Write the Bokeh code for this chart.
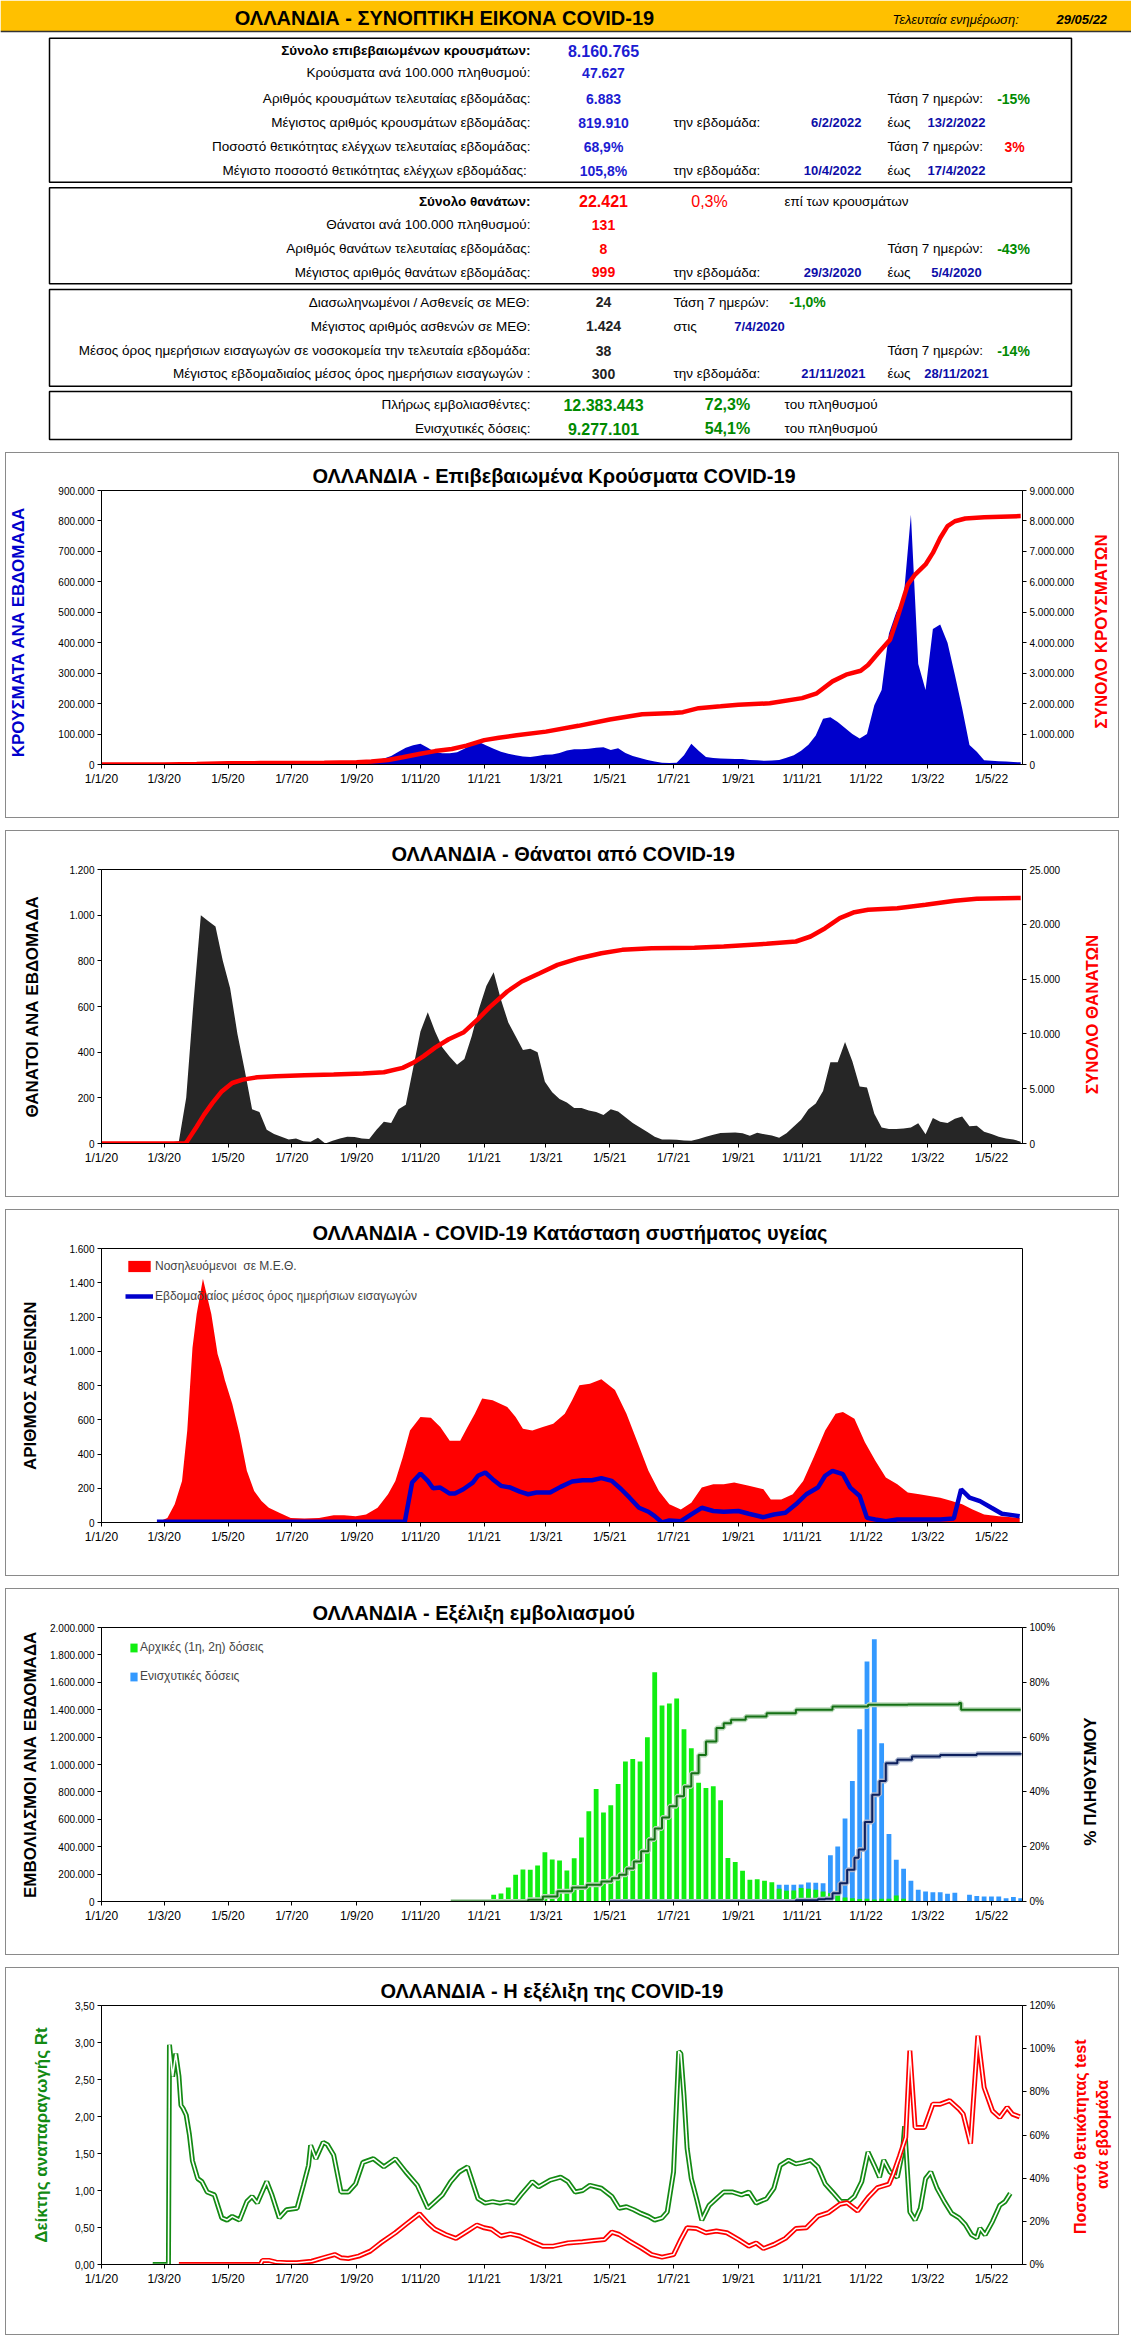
import math
from datetime import date
from bokeh.plotting import figure
from bokeh.models import (Range1d, LinearAxis, FixedTicker, Legend, LegendItem, Spacer)
from bokeh.layouts import column, row
from bokeh.embed import file_html
from bokeh.resources import INLINE
from bokeh.core.properties import value

SANS = "Liberation Sans"

# ---------------------------------------------------------------- data
x_tick_dates = ["2020-01-01", "2020-03-01", "2020-05-01", "2020-07-01", "2020-09-01",
                "2020-11-01", "2021-01-01", "2021-03-01", "2021-05-01", "2021-07-01",
                "2021-09-01", "2021-11-01", "2022-01-01", "2022-03-01", "2022-05-01"]
x_tick_labels = ["1/1/20", "1/3/20", "1/5/20", "1/7/20", "1/9/20", "1/11/20", "1/1/21",
                 "1/3/21", "1/5/21", "1/7/21", "1/9/21", "1/11/21", "1/1/22", "1/3/22", "1/5/22"]
X_START, X_END = "2020-01-01", "2022-05-30"

WEEK_START = "2020-01-05"
weekly_cases = [0, 0, 0, 0, 0, 0, 0, 0,
                100, 800, 3000, 5500, 7000, 7500, 7000, 6500, 5000, 4000,
                2500, 1500, 1300, 1200, 1000, 700, 500, 500, 500, 600,
                1000, 1500, 2000, 2500, 3000, 3500, 4000, 6000, 9000, 14000,
                20000, 28000,
                42000, 55000, 63000, 68000, 55000, 40000, 37000, 37000, 40000, 52000,
                66000, 74000, 62000, 52000, 42000, 35000, 30000, 26000, 25000, 28000,
                32000, 33000, 38000, 46000, 50000, 50000, 52000, 55000, 57000, 48000,
                53000, 38000, 28000, 21000, 15000, 10000, 6000, 5000, 5500, 30000,
                68000, 45000, 25000, 21000, 20000, 19000, 18000, 18000, 15000, 14000,
                12000, 13000, 15000, 22000, 30000, 45000, 65000, 95000, 150000, 155000,
                140000, 120000, 100000, 85000, 100000, 195000, 245000, 430000, 500000, 545000,
                820000, 330000, 245000, 445000, 460000, 400000, 295000, 185000, 64000, 42000,
                14000, 12000, 11000, 10000, 8000, 7000]

weekly_deaths = [0, 0, 0, 0, 0, 0, 0, 0, 0,
                 5, 10, 200, 620, 1000, 975, 950, 800, 680, 480,
                 320, 150, 138, 60, 42, 30, 18, 22, 10, 8,
                 25, 0, 12, 22, 30, 28, 22, 20, 60, 95,
                 90, 150, 170, 330, 490, 575, 490, 420, 380, 345,
                 370, 470, 590, 690, 750, 630, 530, 470, 410, 415,
                 400, 270, 225, 195, 180, 155, 155, 145, 138, 125,
                 150, 140, 115, 90, 70, 50, 30, 18, 18, 16,
                 13, 12, 20, 30, 38, 46, 47, 48, 45, 34,
                 47, 40, 35, 25, 45, 75, 104, 150, 175, 230,
                 356, 356, 445, 360, 250, 245, 130, 70, 64, 64,
                 66, 70, 89, 40, 112, 95, 90, 108, 118, 76,
                 78, 52, 42, 30, 22, 18, 8]

cum_cases = [("2020-01-01", 0), ("2020-03-01", 0), ("2020-04-01", 13000), ("2020-05-01", 39000),
             ("2020-06-01", 46000), ("2020-07-01", 50000), ("2020-08-01", 54000),
             ("2020-09-01", 72000), ("2020-09-15", 100000), ("2020-10-01", 150000),
             ("2020-10-15", 240000), ("2020-11-01", 355000), ("2020-11-15", 440000),
             ("2020-12-01", 510000), ("2020-12-15", 620000), ("2021-01-01", 800000),
             ("2021-01-15", 880000), ("2021-02-01", 960000), ("2021-03-01", 1080000),
             ("2021-04-01", 1270000), ("2021-05-01", 1480000), ("2021-06-01", 1650000),
             ("2021-07-01", 1690000), ("2021-07-10", 1720000), ("2021-07-25", 1850000),
             ("2021-08-15", 1910000), ("2021-09-01", 1960000), ("2021-10-01", 2010000),
             ("2021-11-01", 2180000), ("2021-11-15", 2340000), ("2021-11-30", 2730000),
             ("2021-12-13", 2950000), ("2021-12-27", 3080000), ("2022-01-03", 3270000),
             ("2022-01-14", 3710000), ("2022-01-24", 4100000), ("2022-01-31", 4810000),
             ("2022-02-10", 5910000), ("2022-02-17", 6240000), ("2022-02-27", 6570000),
             ("2022-03-06", 6950000), ("2022-03-13", 7440000), ("2022-03-20", 7830000),
             ("2022-03-27", 7990000), ("2022-04-06", 8080000), ("2022-04-24", 8120000),
             ("2022-05-29", 8160000)]

cum_deaths = [("2020-01-01", 0), ("2020-03-21", 0), ("2020-03-23", 215), ("2020-04-01", 1534),
              ("2020-04-08", 2607), ("2020-04-16", 3681), ("2020-04-25", 4755),
              ("2020-05-05", 5521), ("2020-05-15", 5828), ("2020-05-29", 6043),
              ("2020-06-16", 6135), ("2020-07-13", 6227), ("2020-08-10", 6288),
              ("2020-09-07", 6380), ("2020-09-27", 6503), ("2020-10-15", 6902),
              ("2020-10-25", 7362), ("2020-11-04", 7975), ("2020-11-15", 8742),
              ("2020-11-28", 9509), ("2020-12-12", 10123), ("2020-12-26", 11350),
              ("2021-01-06", 12423), ("2021-01-23", 13869), ("2021-02-06", 14781),
              ("2021-02-23", 15540), ("2021-03-12", 16300), ("2021-04-02", 16907),
              ("2021-04-23", 17363), ("2021-05-13", 17667), ("2021-06-10", 17820),
              ("2021-07-21", 17850), ("2021-08-18", 17974), ("2021-09-28", 18221),
              ("2021-10-26", 18431), ("2021-11-09", 18887), ("2021-11-23", 19645),
              ("2021-12-07", 20557), ("2021-12-21", 21105), ("2022-01-03", 21322),
              ("2022-01-31", 21470), ("2022-02-27", 21775), ("2022-03-27", 22140),
              ("2022-04-17", 22326), ("2022-05-29", 22400)]

icu_patients = [("2020-02-23", 0), ("2020-03-04", 27), ("2020-03-11", 106), ("2020-03-18", 243),
                ("2020-03-23", 537), ("2020-03-28", 1021), ("2020-04-01", 1218), ("2020-04-07", 1424),
                ("2020-04-15", 1218), ("2020-04-21", 984), ("2020-04-25", 904), ("2020-04-28", 831),
                ("2020-05-05", 694), ("2020-05-12", 518), ("2020-05-19", 302), ("2020-05-26", 184),
                ("2020-06-02", 125), ("2020-06-09", 86), ("2020-06-19", 57), ("2020-06-30", 27),
                ("2020-07-13", 24), ("2020-07-27", 27), ("2020-08-10", 43), ("2020-08-20", 43),
                ("2020-08-31", 37), ("2020-09-10", 47), ("2020-09-21", 86), ("2020-10-01", 165),
                ("2020-10-08", 243), ("2020-10-15", 380), ("2020-10-22", 537), ("2020-11-01", 616),
                ("2020-11-11", 612), ("2020-11-20", 557), ("2020-11-29", 478), ("2020-12-09", 478),
                ("2020-12-16", 557), ("2020-12-23", 635), ("2020-12-30", 724), ("2021-01-09", 714),
                ("2021-01-23", 675), ("2021-01-31", 616), ("2021-02-07", 547), ("2021-02-16", 537),
                ("2021-02-26", 557), ("2021-03-08", 576), ("2021-03-19", 635), ("2021-03-26", 714),
                ("2021-04-02", 802), ("2021-04-12", 810), ("2021-04-23", 836), ("2021-05-06", 773),
                ("2021-05-17", 635), ("2021-05-27", 478), ("2021-06-07", 302), ("2021-06-17", 184),
                ("2021-06-27", 106), ("2021-07-08", 76), ("2021-07-18", 116), ("2021-07-28", 204),
                ("2021-08-08", 224), ("2021-08-18", 224), ("2021-08-28", 233), ("2021-09-11", 214),
                ("2021-09-25", 194), ("2021-10-02", 135), ("2021-10-12", 135), ("2021-10-23", 165),
                ("2021-11-02", 243), ("2021-11-12", 380), ("2021-11-23", 537), ("2021-12-03", 635),
                ("2021-12-10", 645), ("2021-12-21", 606), ("2021-12-31", 469), ("2022-01-10", 361),
                ("2022-01-20", 263), ("2022-01-31", 224), ("2022-02-10", 175), ("2022-02-21", 165),
                ("2022-03-03", 155), ("2022-03-13", 145), ("2022-03-24", 125), ("2022-04-03", 106),
                ("2022-04-13", 76), ("2022-04-24", 47), ("2022-05-08", 37), ("2022-05-28", 27)]

admissions = [("2020-02-23", 4), ("2020-10-17", 4), ("2020-10-24", 233), ("2020-11-01", 286),
              ("2020-11-08", 243), ("2020-11-13", 200), ("2020-11-20", 204), ("2020-11-29", 169),
              ("2020-12-04", 169), ("2020-12-12", 194), ("2020-12-21", 233), ("2020-12-26", 273),
              ("2021-01-02", 292), ("2021-01-09", 253), ("2021-01-17", 214), ("2021-01-26", 204),
              ("2021-02-04", 180), ("2021-02-12", 165), ("2021-02-20", 175), ("2021-03-05", 175),
              ("2021-03-15", 208), ("2021-03-26", 239), ("2021-04-05", 247), ("2021-04-14", 247),
              ("2021-04-23", 259), ("2021-05-03", 243), ("2021-05-12", 194), ("2021-05-20", 145),
              ("2021-05-29", 86), ("2021-06-07", 63), ("2021-06-13", 37), ("2021-06-20", 0),
              ("2021-06-27", 12), ("2021-07-08", 8), ("2021-07-18", 47), ("2021-07-28", 86),
              ("2021-08-08", 67), ("2021-08-18", 63), ("2021-09-01", 67), ("2021-09-11", 51),
              ("2021-09-25", 31), ("2021-10-05", 47), ("2021-10-16", 57), ("2021-10-26", 106),
              ("2021-11-05", 165), ("2021-11-16", 204), ("2021-11-23", 273), ("2021-11-30", 302),
              ("2021-12-10", 282), ("2021-12-17", 204), ("2021-12-26", 155), ("2022-01-02", 27),
              ("2022-01-10", 18), ("2022-01-20", 8), ("2022-01-31", 18), ("2022-02-14", 18),
              ("2022-03-13", 18), ("2022-03-26", 24), ("2022-04-02", 194), ("2022-04-10", 145),
              ("2022-04-20", 125), ("2022-05-01", 86), ("2022-05-11", 51), ("2022-05-21", 43),
              ("2022-05-28", 37)]

PRIMARY_START = "2021-01-10"
primary_doses = [49000, 58000, 102000, 195000, 234000, 232000, 263000, 359000, 307000, 300000,
                 227000, 315000, 468000, 659000, 822000, 650000, 702000, 858000, 1022000, 1041000,
                 1022000, 1199000, 1674000, 1431000, 1445000, 1482000, 1258000, 1119000, 866000, 829000,
                 841000, 739000, 317000, 288000, 224000, 159000, 163000, 151000, 141000, 93000,
                 78000, 80000, 98000, 93000, 85000, 73000, 61000, 49000, 30000, 24000,
                 18000, 20000, 15000, 20000, 20000, 44000, 20000, 5000, 3000, 2000,
                 2000, 2000, 2000, 2000, 2000, 2000, 1000, 1000, 1000, 1000,
                 1000, 1000, 1000]
BOOSTER_START = "2021-10-10"
booster_doses = [122000, 122000, 122000, 125000, 138000, 137000, 133000,
                 337000, 402000, 605000, 880000,
                 1258000, 1752000, 1915000, 1156000,
                 493000, 305000, 239000, 151000, 85000, 73000, 68000, 68000, 56000, 63000,
                 0, 49000, 41000, 37000, 37000, 37000, 24000, 32000, 24000]

fully_pct = [("2020-11-30", 0), ("2021-01-23", 0), ("2021-02-12", 0.6), ("2021-02-26", 1.8),
             ("2021-03-12", 3.7), ("2021-03-26", 5.1), ("2021-04-09", 6.1), ("2021-04-23", 7.3),
             ("2021-05-03", 8.5), ("2021-05-10", 9.8), ("2021-05-17", 12), ("2021-05-24", 14.6),
             ("2021-05-31", 18.3), ("2021-06-07", 22.6), ("2021-06-13", 26.6), ("2021-06-20", 30.7),
             ("2021-06-27", 34.8), ("2021-07-04", 38.4), ("2021-07-11", 42), ("2021-07-18", 46.8),
             ("2021-07-25", 53.5), ("2021-08-01", 58.4), ("2021-08-11", 63.3), ("2021-08-18", 65.1),
             ("2021-08-25", 66.3), ("2021-09-08", 67.5), ("2021-09-28", 68.7), ("2021-10-26", 70),
             ("2021-11-30", 71.2), ("2022-01-03", 71.8), ("2022-02-10", 71.9), ("2022-03-31", 72.4),
             ("2022-04-02", 70), ("2022-05-29", 70)]
booster_pct = [("2021-05-01", 0), ("2021-10-26", 0.5), ("2021-11-16", 0.8), ("2021-11-23", 1),
               ("2021-11-30", 3), ("2021-12-07", 6.7), ("2021-12-14", 11.6), ("2021-12-21", 16),
               ("2021-12-25", 19), ("2021-12-31", 29), ("2022-01-07", 39), ("2022-01-14", 44),
               ("2022-01-20", 50.5), ("2022-01-31", 51.7), ("2022-02-14", 52.9), ("2022-03-13", 53.5),
               ("2022-04-17", 53.9), ("2022-05-29", 54.1)]

rt_values = [("2020-02-19", 0), ("2020-03-05", 0), ("2020-03-06", 2.97), ("2020-03-09", 2.54),
             ("2020-03-12", 2.85), ("2020-03-15", 2.55), ("2020-03-17", 2.15), ("2020-03-19", 2.11),
             ("2020-03-22", 2.02), ("2020-03-25", 1.76), ("2020-03-28", 1.40), ("2020-04-02", 1.16),
             ("2020-04-06", 1.12), ("2020-04-11", 0.98), ("2020-04-18", 0.94), ("2020-04-25", 0.63),
             ("2020-04-30", 0.60), ("2020-05-05", 0.65), ("2020-05-12", 0.60), ("2020-05-19", 0.85),
             ("2020-05-24", 0.92), ("2020-05-29", 0.83), ("2020-06-07", 1.12), ("2020-06-12", 0.94),
             ("2020-06-19", 0.63), ("2020-06-26", 0.74), ("2020-07-06", 0.76), ("2020-07-12", 1.07),
             ("2020-07-17", 1.34), ("2020-07-19", 1.61), ("2020-07-24", 1.43), ("2020-07-31", 1.65),
             ("2020-08-04", 1.62), ("2020-08-10", 1.48), ("2020-08-17", 0.98), ("2020-08-24", 0.98),
             ("2020-08-31", 1.09), ("2020-09-07", 1.38), ("2020-09-17", 1.43), ("2020-09-27", 1.32),
             ("2020-10-08", 1.43), ("2020-10-18", 1.25), ("2020-10-29", 1.07), ("2020-11-08", 0.76),
             ("2020-11-15", 0.85), ("2020-11-22", 0.94), ("2020-11-30", 1.12), ("2020-12-08", 1.25),
             ("2020-12-16", 1.32), ("2020-12-26", 0.89), ("2021-01-02", 0.83), ("2021-01-09", 0.85),
             ("2021-01-16", 0.83), ("2021-01-23", 0.85), ("2021-01-30", 0.83), ("2021-02-05", 0.94),
             ("2021-02-16", 1.12), ("2021-02-22", 1.05), ("2021-03-05", 1.14), ("2021-03-15", 1.18),
             ("2021-03-22", 1.12), ("2021-03-29", 0.98), ("2021-04-05", 1.00), ("2021-04-12", 1.07),
             ("2021-04-23", 1.03), ("2021-05-03", 0.92), ("2021-05-10", 0.76), ("2021-05-17", 0.78),
             ("2021-05-24", 0.74), ("2021-05-31", 0.69), ("2021-06-07", 0.65), ("2021-06-13", 0.60),
             ("2021-06-20", 0.63), ("2021-06-25", 0.71), ("2021-07-01", 1.25), ("2021-07-06", 2.88),
             ("2021-07-08", 2.85), ("2021-07-11", 2.28), ("2021-07-14", 1.57), ("2021-07-18", 1.16),
             ("2021-07-23", 0.89), ("2021-07-28", 0.60), ("2021-08-04", 0.80), ("2021-08-11", 0.89),
             ("2021-08-18", 0.98), ("2021-08-26", 0.98), ("2021-09-04", 0.94), ("2021-09-11", 0.98),
             ("2021-09-18", 0.83), ("2021-09-28", 0.89), ("2021-10-05", 1.03), ("2021-10-11", 1.34),
             ("2021-10-19", 1.41), ("2021-10-26", 1.36), ("2021-11-02", 1.38), ("2021-11-09", 1.41),
             ("2021-11-16", 1.32), ("2021-11-23", 1.09), ("2021-11-30", 0.98), ("2021-12-08", 0.85),
             ("2021-12-15", 0.85), ("2021-12-21", 0.92), ("2021-12-28", 1.12), ("2022-01-03", 1.52),
             ("2022-01-09", 1.34), ("2022-01-14", 1.18), ("2022-01-18", 1.41), ("2022-01-24", 1.25),
             ("2022-01-31", 1.18), ("2022-02-05", 1.52), ("2022-02-07", 1.87), ("2022-02-12", 0.71),
             ("2022-02-17", 0.60), ("2022-02-22", 0.76), ("2022-02-27", 1.16), ("2022-03-04", 1.25),
             ("2022-03-10", 1.03), ("2022-03-17", 0.85), ("2022-03-24", 0.69), ("2022-03-31", 0.63),
             ("2022-04-06", 0.54), ("2022-04-12", 0.40), ("2022-04-17", 0.36), ("2022-04-20", 0.49),
             ("2022-04-25", 0.40), ("2022-05-02", 0.58), ("2022-05-09", 0.80), ("2022-05-14", 0.85),
             ("2022-05-19", 0.96)]

positivity = [("2020-03-15", 0), ("2020-06-01", 0), ("2020-06-03", 1.9), ("2020-06-09", 1.9),
              ("2020-06-16", 1.1), ("2020-06-26", 0.8), ("2020-07-06", 0.8), ("2020-07-20", 1.5),
              ("2020-07-31", 3.1), ("2020-08-11", 4.6), ("2020-08-17", 3.1), ("2020-08-24", 2.8),
              ("2020-09-03", 3.9), ("2020-09-14", 6.2), ("2020-09-24", 10.0), ("2020-10-08", 14.7),
              ("2020-10-18", 18.6), ("2020-10-31", 23.5), ("2020-11-08", 19.3), ("2020-11-15", 16.3),
              ("2020-11-25", 13.9), ("2020-12-05", 12.1), ("2020-12-16", 15.5), ("2020-12-25", 18.3),
              ("2021-01-01", 17.0), ("2021-01-08", 16.3), ("2021-01-17", 13.2), ("2021-01-26", 14.2),
              ("2021-02-04", 13.2), ("2021-02-16", 10.5), ("2021-02-26", 8.5), ("2021-03-08", 8.5),
              ("2021-03-22", 10.0), ("2021-04-05", 10.5), ("2021-04-16", 11.1), ("2021-04-26", 11.6),
              ("2021-05-03", 15.0), ("2021-05-10", 13.9), ("2021-05-20", 10.8), ("2021-05-31", 7.7),
              ("2021-06-10", 4.6), ("2021-06-20", 3.4), ("2021-07-01", 4.6), ("2021-07-08", 11.6),
              ("2021-07-14", 17.0), ("2021-07-23", 16.7), ("2021-08-01", 14.7), ("2021-08-11", 15.5),
              ("2021-08-21", 14.7), ("2021-09-01", 11.6), ("2021-09-11", 8.5), ("2021-09-18", 10.0),
              ("2021-09-25", 7.4), ("2021-10-05", 9.3), ("2021-10-16", 12.1), ("2021-10-26", 16.7),
              ("2021-11-05", 17.0), ("2021-11-16", 22.4), ("2021-11-26", 24.0), ("2021-12-07", 27.9),
              ("2021-12-14", 28.6), ("2021-12-24", 24.8), ("2022-01-03", 31.0), ("2022-01-12", 35.6),
              ("2022-01-23", 37.2), ("2022-01-27", 41.8), ("2022-02-02", 50.0), ("2022-02-08", 58.8),
              ("2022-02-12", 99.1), ("2022-02-17", 63.5), ("2022-02-26", 63.5), ("2022-03-06", 74.3),
              ("2022-03-13", 74.3), ("2022-03-22", 75.9), ("2022-03-31", 72.0), ("2022-04-04", 69.7),
              ("2022-04-11", 56.0), ("2022-04-18", 106.0), ("2022-04-24", 82.0), ("2022-05-02", 71.2),
              ("2022-05-09", 68.1), ("2022-05-16", 72.8), ("2022-05-21", 69.7), ("2022-05-28", 68.4)]

cases_ticks = [0, 100000, 200000, 300000, 400000, 500000, 600000, 700000, 800000, 900000]
cum_cases_ticks = [0, 1000000, 2000000, 3000000, 4000000, 5000000, 6000000, 7000000, 8000000, 9000000]
deaths_ticks = [0, 200, 400, 600, 800, 1000, 1200]
cum_deaths_ticks = [0, 5000, 10000, 15000, 20000, 25000]
icu_ticks = [0, 200, 400, 600, 800, 1000, 1200, 1400, 1600]
vacc_ticks = [0, 200000, 400000, 600000, 800000, 1000000, 1200000, 1400000, 1600000, 1800000, 2000000]
vacc_pct_ticks = [0, 20, 40, 60, 80, 100]
rt_ticks = [0, 0.5, 1.0, 1.5, 2.0, 2.5, 3.0, 3.5]
pos_ticks = [0, 20, 40, 60, 80, 100, 120]

# ---------------------------------------------------------------- helpers
ORIGIN = date(2020, 1, 1)
BORDER = "1px solid #8a8a8a"


def day(s):
    y, m, d = (int(t) for t in s.split("-"))
    return (date(y, m, d) - ORIGIN).days


def weekly_x(start, n):
    s = day(start)
    return [s + 7 * k for k in range(n)]


def unzip(pairs):
    return [day(a) for a, _ in pairs], [b for _, b in pairs]


def dots(n):
    return f"{int(n):,}".replace(",", ".")


def no_frame_align(p):
    if "frame_align" in p.properties():
        p.frame_align = False


def style_axis(ax, size):
    ax.major_label_text_font = SANS
    ax.major_label_text_font_size = size
    ax.major_label_text_color = "#000000"
    ax.major_tick_in = 0
    ax.major_tick_out = 4
    ax.minor_tick_in = 0
    ax.minor_tick_out = 0
    ax.axis_line_color = "#000000"
    ax.major_tick_line_color = "#000000"
    ax.major_label_standoff = 3


def axis_title(ax, text, color, standoff):
    ax.axis_label = text
    ax.axis_label_text_font = SANS
    ax.axis_label_text_font_size = "17px"
    ax.axis_label_text_font_style = "bold"
    ax.axis_label_text_color = color
    ax.axis_label_standoff = standoff


def make_chart(width, right_border, height, top, bottom, ymax, yticks, ylabels,
               title, title_offset, title_standoff, open_right):
    p = figure(width=width, height=height,
               x_range=Range1d(day(X_START), day(X_END) + 0.7),
               y_range=Range1d(0, ymax),
               min_border_left=95, min_border_right=right_border,
               min_border_top=top, min_border_bottom=bottom,
               toolbar_location=None, tools="", output_backend="svg")
    no_frame_align(p)
    p.styles = {"border": BORDER, "border-right": "none"} if open_right else {"border": BORDER}
    p.xgrid.visible = False
    p.ygrid.visible = False
    p.outline_line_color = "#000000"
    p.outline_line_width = 1
    p.title.text = title
    p.title.align = "left"
    p.title.offset = title_offset
    p.title.standoff = title_standoff
    p.title.text_font = SANS
    p.title.text_font_size = "20px"
    p.title.text_font_style = "bold"
    p.title.text_color = "#000000"
    xa = p.xaxis[0]
    xa.ticker = FixedTicker(ticks=[day(s) for s in x_tick_dates])
    xa.major_label_overrides = {day(s): l for s, l in zip(x_tick_dates, x_tick_labels)}
    style_axis(xa, "12px")
    ya = p.yaxis[0]
    ya.ticker = FixedTicker(ticks=yticks)
    ya.major_label_overrides = dict(zip(yticks, ylabels))
    style_axis(ya, "10px")
    return p


def right_axis(p, name, ymax, ticks, labels):
    p.extra_y_ranges = {name: Range1d(0, ymax)}
    ax = LinearAxis(y_range_name=name, ticker=FixedTicker(ticks=ticks),
                    major_label_overrides=dict(zip(ticks, labels)))
    style_axis(ax, "10px")
    p.add_layout(ax, "right")
    return ax


def label_strip(width, height, items):
    """Narrow strip to the right of a chart holding its bottom-to-top right-hand title."""
    lf = figure(width=width, height=height, x_range=Range1d(0, width), y_range=Range1d(0, height),
                min_border=0, min_border_left=0, min_border_right=0, min_border_top=0,
                min_border_bottom=0, toolbar_location=None, tools="", output_backend="svg",
                x_axis_location=None, y_axis_location=None)
    no_frame_align(lf)
    lf.grid.visible = False
    lf.outline_line_color = None
    lf.styles = {"border": BORDER, "border-left": "none"}
    for x, y, s, col, size in items:
        lf.text(x=[x], y=[y], text=[s], angle=math.pi / 2, text_align="center",
                text_baseline="middle", text_font=value(SANS), text_font_size=value(size),
                text_font_style="bold", text_color=col)
    return lf


# ---------------------------------------------------------------- summary table
tbl = figure(width=1131, height=446, x_range=Range1d(0, 1131), y_range=Range1d(446, 0),
             min_border=0, min_border_left=0, min_border_right=0, min_border_top=0,
             min_border_bottom=0, toolbar_location=None, tools="", output_backend="svg",
             x_axis_location=None, y_axis_location=None)
no_frame_align(tbl)
tbl.grid.visible = False
tbl.outline_line_color = None

tbl.quad(left=[0], right=[1131], top=[0], bottom=[31], fill_color="#FFC000", line_color=None)
tbl.segment(x0=[0], x1=[1131], y0=[31], y1=[31], line_color="#333333", line_width=1.5)


def put(x, y, s, align="left", color="#000000", size="13.5px", style="normal"):
    tbl.text(x=[x], y=[y], text=[s], text_align=align, text_baseline="middle",
             text_font=value(SANS), text_font_size=value(size), text_font_style=style,
             text_color=color)


put(444, 17.5, "ΟΛΛΑΝΔΙΑ - ΣΥΝΟΠΤΙΚΗ ΕΙΚΟΝΑ COVID-19", "center", size="20px", style="bold")
put(892, 19, "Τελευταία ενημέρωση:", size="13px", style="italic")
put(1056, 19, "29/05/22", size="13px", style="bold italic")

box_top = [37.7, 187.3, 289, 391]
box_bottom = [181.7, 283.3, 385.7, 439]
tbl.quad(left=[49] * 4, right=[1071] * 4, top=box_top, bottom=box_bottom,
         fill_color=None, line_color="#000000", line_width=1.5)

BV = "#1c1cd2"   # blue values
BD = "#0d0da8"   # blue dates
GR = "#008a00"
RD = "#ff0000"
BK = "#222222"
LX, VX = 530, 603

table_rows = [
    (50, "Σύνολο επιβεβαιωμένων κρουσμάτων:", "bold", "8.160.765", BV, "16px"),
    (72, "Κρούσματα ανά 100.000 πληθυσμού:", "normal", "47.627", BV, "14px"),
    (98, "Αριθμός κρουσμάτων τελευταίας εβδομάδας:", "normal", "6.883", BV, "14px"),
    (122, "Μέγιστος αριθμός κρουσμάτων εβδομάδας:", "normal", "819.910", BV, "14px"),
    (146, "Ποσοστό θετικότητας ελέγχων τελευταίας εβδομάδας:", "normal", "68,9%", BV, "14px"),
    (170, "Μέγιστο ποσοστό θετικότητας ελέγχων  εβδομάδας:", "normal", "105,8%", BV, "14px"),
    (200.7, "Σύνολο θανάτων:", "bold", "22.421", RD, "16px"),
    (224, "Θάνατοι ανά 100.000 πληθυσμού:", "normal", "131", RD, "14px"),
    (248.3, "Αριθμός θανάτων τελευταίας εβδομάδας:", "normal", "8", RD, "14px"),
    (271.7, "Μέγιστος αριθμός θανάτων εβδομάδας:", "normal", "999", RD, "14px"),
    (301.7, "Διασωληνωμένοι / Ασθενείς σε ΜΕΘ:", "normal", "24", BK, "14px"),
    (325.7, "Μέγιστος αριθμός ασθενών σε ΜΕΘ:", "normal", "1.424", BK, "14px"),
    (350, "Μέσος όρος ημερήσιων εισαγωγών σε νοσοκομεία την τελευταία εβδομάδα:", "normal", "38", BK, "14px"),
    (373.3, "Μέγιστος εβδομαδιαίος μέσος όρος ημερήσιων εισαγωγών :", "normal", "300", BK, "14px"),
    (404, "Πλήρως εμβολιασθέντες:", "normal", "12.383.443", GR, "16px"),
    (428.3, "Ενισχυτικές δόσεις:", "normal", "9.277.101", GR, "16px"),
]
for y, lab, lstyle, val, col, vsize in table_rows:
    put(LX, y, lab, "right", style=lstyle)
    put(VX, y, val, "center", color=col, size=vsize, style="bold")

table_extras = [
    (887, 98, "Τάση 7 ημερών:", "left", "#000000", "13.5px", "normal"),
    (1013, 98, "-15%", "center", GR, "14px", "bold"),
    (673, 122, "την εβδομάδα:", "left", "#000000", "13.5px", "normal"),
    (861, 122, "6/2/2022", "right", BD, "13px", "bold"),
    (887, 122, "έως", "left", "#000000", "13.5px", "normal"),
    (956, 122, "13/2/2022", "center", BD, "13px", "bold"),
    (887, 146, "Τάση 7 ημερών:", "left", "#000000", "13.5px", "normal"),
    (1014, 146, "3%", "center", RD, "14px", "bold"),
    (673, 170, "την εβδομάδα:", "left", "#000000", "13.5px", "normal"),
    (861, 170, "10/4/2022", "right", BD, "13px", "bold"),
    (887, 170, "έως", "left", "#000000", "13.5px", "normal"),
    (956, 170, "17/4/2022", "center", BD, "13px", "bold"),
    (709, 200.7, "0,3%", "center", RD, "16px", "normal"),
    (784, 200.7, "επί των κρουσμάτων", "left", "#000000", "13.5px", "normal"),
    (887, 248.3, "Τάση 7 ημερών:", "left", "#000000", "13.5px", "normal"),
    (1013, 248.3, "-43%", "center", GR, "14px", "bold"),
    (673, 271.7, "την εβδομάδα:", "left", "#000000", "13.5px", "normal"),
    (861, 271.7, "29/3/2020", "right", BD, "13px", "bold"),
    (887, 271.7, "έως", "left", "#000000", "13.5px", "normal"),
    (956, 271.7, "5/4/2020", "center", BD, "13px", "bold"),
    (673, 301.7, "Τάση 7 ημερών:", "left", "#000000", "13.5px", "normal"),
    (807, 301.7, "-1,0%", "center", GR, "14px", "bold"),
    (673, 325.7, "στις", "left", "#000000", "13.5px", "normal"),
    (759, 325.7, "7/4/2020", "center", BD, "13px", "bold"),
    (887, 350, "Τάση 7 ημερών:", "left", "#000000", "13.5px", "normal"),
    (1013, 350, "-14%", "center", GR, "14px", "bold"),
    (673, 373.3, "την εβδομάδα:", "left", "#000000", "13.5px", "normal"),
    (865, 373.3, "21/11/2021", "right", BD, "13px", "bold"),
    (887, 373.3, "έως", "left", "#000000", "13.5px", "normal"),
    (956, 373.3, "28/11/2021", "center", BD, "13px", "bold"),
    (727, 404, "72,3%", "center", GR, "16px", "bold"),
    (784, 404, "του πληθυσμού", "left", "#000000", "13.5px", "normal"),
    (727, 428.3, "54,1%", "center", GR, "16px", "bold"),
    (784, 428.3, "του πληθυσμού", "left", "#000000", "13.5px", "normal"),
]
for x, y, s, al, col, sz, st in table_extras:
    put(x, y, s, al, color=col, size=sz, style=st)

# ---------------------------------------------------------------- chart 1: cases
p1 = make_chart(1075, 59, 366, 37, 55, 900000, cases_ticks, [dots(v) for v in cases_ticks],
                "ΟΛΛΑΝΔΙΑ  - Επιβεβαιωμένα Κρούσματα  COVID-19", 211, 8, True)
right_axis(p1, "cum", 9000000, cum_cases_ticks, [dots(v) for v in cum_cases_ticks])
wx = weekly_x(WEEK_START, len(weekly_cases))
p1.varea(x=wx, y1=0, y2=weekly_cases, fill_color="#0000CC")
cx, cy = unzip(cum_cases)
p1.line(x=cx, y=cy, y_range_name="cum", line_color="#FF0000", line_width=4.5)
axis_title(p1.yaxis[0], "ΚΡΟΥΣΜΑΤΑ  ΑΝΑ  ΕΒΔΟΜΑΔΑ", "#0000CC", 27)
s1 = label_strip(39, 366, [(21, 188, "ΣΥΝΟΛΟ ΚΡΟΥΣΜΑΤΩΝ", "#FF0000", "17px")])
chart1 = row(p1, s1)

# ---------------------------------------------------------------- chart 2: deaths
p2 = make_chart(1061, 45, 367, 38, 55, 1200, deaths_ticks, [dots(v) for v in deaths_ticks],
                "ΟΛΛΑΝΔΙΑ  - Θάνατοι από COVID-19", 290, 9, True)
right_axis(p2, "cum", 25000, cum_deaths_ticks, [dots(v) for v in cum_deaths_ticks])
dx = weekly_x(WEEK_START, len(weekly_deaths))
p2.varea(x=dx, y1=0, y2=weekly_deaths, fill_color="#262626")
cdx, cdy = unzip(cum_deaths)
p2.line(x=cdx, y=cdy, y_range_name="cum", line_color="#FF0000", line_width=4.5)
axis_title(p2.yaxis[0], "ΘΑΝΑΤΟΙ ΑΝΑ ΕΒΔΟΜΑΔΑ", "#000000", 24)
s2 = label_strip(53, 367, [(26, 184, "ΣΥΝΟΛΟ ΘΑΝΑΤΩΝ", "#FF0000", "17px")])
chart2 = row(p2, s2)

# ---------------------------------------------------------------- chart 3: health system
p3 = make_chart(1114, 98, 367, 38, 55, 1600, icu_ticks, [dots(v) for v in icu_ticks],
                "ΟΛΛΑΝΔΙΑ  - COVID-19 Κατάσταση συστήματος υγείας", 211, 9, False)
ix, iy = unzip(icu_patients)
r_icu = p3.varea(x=ix, y1=0, y2=iy, fill_color="#FF0000")
ax_, ay_ = unzip(admissions)
r_adm = p3.line(x=ax_, y=ay_, line_color="#0000CC", line_width=4.5)
axis_title(p3.yaxis[0], "ΑΡΙΘΜΟΣ ΑΣΘΕΝΩΝ", "#000000", 26)
leg3 = Legend(items=[LegendItem(label="Νοσηλευόμενοι  σε Μ.Ε.Θ.", renderers=[r_icu]),
                     LegendItem(label="Εβδομαδιαίος μέσος όρος ημερήσιων εισαγωγών",
                                renderers=[r_adm])],
              location=(24, 219), padding=0, margin=0, spacing=16, glyph_width=28,
              glyph_height=14, label_height=14, label_standoff=2,
              label_text_font=SANS, label_text_font_size="12px",
              background_fill_alpha=0, border_line_color=None)
p3.add_layout(leg3)
chart3 = row(p3)

# ---------------------------------------------------------------- chart 4: vaccination
p4 = make_chart(1057, 41, 367, 38, 55, 2000000, vacc_ticks, [dots(v) for v in vacc_ticks],
                "ΟΛΛΑΝΔΙΑ  - Εξέλιξη  εμβολιασμού", 211, 8, True)
right_axis(p4, "pct", 100, vacc_pct_ticks, [f"{v}%" for v in vacc_pct_ticks])
bx = weekly_x(BOOSTER_START, len(booster_doses))
r_boost = p4.vbar(x=bx, top=booster_doses, width=4.6, fill_color="#3399FF", line_color=None)
gx = weekly_x(PRIMARY_START, len(primary_doses))
r_prim = p4.vbar(x=gx, top=primary_doses, width=4.6, fill_color="#11EE11", line_color=None)
fx, fy = unzip(fully_pct)
p4.step(x=fx, y=fy, mode="after", y_range_name="pct", line_color="#b9d8b9", line_width=5)
p4.step(x=fx, y=fy, mode="after", y_range_name="pct", line_color="#157015", line_width=2)
bpx, bpy = unzip(booster_pct)
p4.step(x=bpx, y=bpy, mode="after", y_range_name="pct", line_color="#aab6cf", line_width=5)
p4.step(x=bpx, y=bpy, mode="after", y_range_name="pct", line_color="#0d1f5c", line_width=2)
axis_title(p4.yaxis[0], "ΕΜΒΟΛΙΑΣΜΟΙ ΑΝΑ ΕΒΔΟΜΑΔΑ", "#000000", 7)
leg4 = Legend(items=[LegendItem(label="Αρχικές (1η, 2η) δόσεις", renderers=[r_prim]),
                     LegendItem(label="Ενισχυτικές δόσεις", renderers=[r_boost])],
              location=(28, 218), padding=0, margin=0, spacing=15, glyph_width=9,
              glyph_height=11, label_height=14, label_standoff=2,
              label_text_font=SANS, label_text_font_size="12px",
              background_fill_alpha=0, border_line_color=None)
p4.add_layout(leg4)
s4 = label_strip(57, 367, [(27.5, 175, "% ΠΛΗΘΥΣΜΟΥ", "#000000", "17px")])
chart4 = row(p4, s4)

# ---------------------------------------------------------------- chart 5: Rt & positivity
p5 = make_chart(1057, 41, 368, 37, 72, 3.5, rt_ticks,
                [f"{v:.2f}".replace(".", ",") for v in rt_ticks],
                "ΟΛΛΑΝΔΙΑ  - Η εξέλιξη  της COVID-19", 279, 8, True)
right_axis(p5, "pct", 120, pos_ticks, [f"{v}%" for v in pos_ticks])
rx, ry = unzip(rt_values)
p5.line(x=rx, y=ry, line_color="#138a13", line_width=5)
p5.line(x=rx, y=ry, line_color="#ffffff", line_width=1.6)
px_, py_ = unzip(positivity)
p5.line(x=px_, y=py_, y_range_name="pct", line_color="#FF0000", line_width=5)
p5.line(x=px_, y=py_, y_range_name="pct", line_color="#ffffff", line_width=1.6)
axis_title(p5.yaxis[0], "Δείκτης αναπαραγωγής Rt", "#138a13", 21)
s5 = label_strip(57, 368, [(18, 202, "Ποσοστό θετικότητας  test", "#FF0000", "16px"),
                           (40, 202, "ανά εβδομάδα", "#FF0000", "16px")])
chart5 = row(p5, s5)

for r in (chart1, chart2, chart3, chart4, chart5):
    r.margin = (0, 0, 0, 5)

layout = column(tbl, Spacer(width=1131, height=6), chart1, Spacer(width=1131, height=12), chart2,
                Spacer(width=1131, height=12), chart3, Spacer(width=1131, height=12), chart4,
                Spacer(width=1131, height=12), chart5)

open("out.html", "w").write(file_html(layout, INLINE))
